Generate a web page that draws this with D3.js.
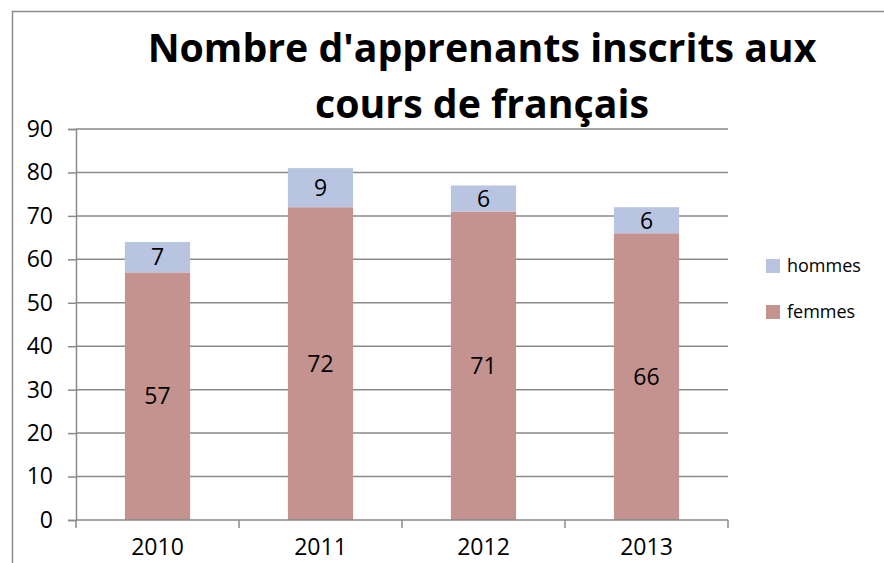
<!DOCTYPE html>
<html lang="fr">
<head>
<meta charset="utf-8">
<title>Nombre d'apprenants</title>
<style>
  body { margin: 0; background: #fff; }
  svg text { font-family: "Open Sans", "Liberation Sans", sans-serif; fill: #000; }
</style>
</head>
<body>
<svg width="884" height="563"></svg>
<script src="https://d3js.org/d3.v7.min.js"></script>
<script>
const years = ["2010", "2011", "2012", "2013"];
const femmes = [57, 72, 71, 66];
const hommes = [7, 9, 6, 6];
const seriesNames = ["femmes", "hommes"];
const yTicks = [0, 10, 20, 30, 40, 50, 60, 70, 80, 90];
const titleLines = ["Nombre d'apprenants inscrits aux", "cours de français"];

const colors = { femmes: "#c49390", hommes: "#b9c5e0" };

const svg = d3.select("svg");

// chart frame (cropped at bottom and right)
svg.append("path")
  .attr("d", "M12.5,563 V11.5 H884")
  .attr("fill", "none")
  .attr("stroke", "#8a8a8a")
  .attr("stroke-width", 1.5);

const plot = { left: 76, right: 728, top: 129, bottom: 520 };

const x = d3.scaleBand()
  .domain(years)
  .range([plot.left, plot.right])
  .paddingInner(0.6)
  .paddingOuter(0.3);

const y = d3.scaleLinear()
  .domain([0, 90])
  .range([plot.bottom, plot.top]);

// gridlines
svg.append("g")
  .selectAll("line")
  .data(yTicks.slice(1))
  .join("line")
    .attr("x1", plot.left)
    .attr("x2", plot.right)
    .attr("y1", d => y(d))
    .attr("y2", d => y(d))
    .attr("stroke", "#8a8a8a")
    .attr("stroke-width", 1.5);

// stacked bars
const rows = years.map((yr, i) => ({ year: yr, femmes: femmes[i], hommes: hommes[i] }));
const stack = d3.stack().keys(seriesNames)(rows);

const groups = svg.append("g")
  .selectAll("g")
  .data(stack)
  .join("g")
    .attr("fill", d => colors[d.key]);

groups.selectAll("rect")
  .data(d => d)
  .join("rect")
    .attr("x", d => x(d.data.year))
    .attr("width", x.bandwidth())
    .attr("y", d => y(d[1]))
    .attr("height", d => y(d[0]) - y(d[1]));

groups.selectAll("text")
  .data(d => d.map(v => ({ v, key: d.key })))
  .join("text")
    .attr("x", d => x(d.v.data.year) + x.bandwidth() / 2)
    .attr("y", d => (y(d.v[0]) + y(d.v[1])) / 2)
    .attr("dy", "0.36em")
    .attr("text-anchor", "middle")
    .attr("font-size", 23)
    .text(d => d.v.data[d.key]);

// y axis
const yAxis = svg.append("g")
  .attr("transform", `translate(${plot.left},0)`)
  .call(d3.axisLeft(y).tickValues(yTicks).tickSize(8).tickPadding(15));
yAxis.select(".domain").attr("stroke", "#8a8a8a").attr("stroke-width", 1.5);
yAxis.selectAll(".tick line").attr("stroke", "#8a8a8a").attr("stroke-width", 1.5);
yAxis.selectAll(".tick text")
  .attr("font-size", 23)
  .attr("font-family", "Open Sans, sans-serif")
  .attr("fill", "#000");

// x axis with ticks at category boundaries
const xAxis = svg.append("g")
  .attr("transform", `translate(0,${plot.bottom})`);
xAxis.append("line")
  .attr("x1", plot.left).attr("x2", plot.right)
  .attr("stroke", "#8a8a8a").attr("stroke-width", 1.5);
const step = (plot.right - plot.left) / years.length;
xAxis.selectAll(".sep")
  .data(d3.range(years.length + 1))
  .join("line")
    .attr("x1", d => plot.left + d * step)
    .attr("x2", d => plot.left + d * step)
    .attr("y1", 0).attr("y2", 8)
    .attr("stroke", "#8a8a8a").attr("stroke-width", 1.5);
xAxis.selectAll("text")
  .data(years)
  .join("text")
    .attr("x", d => x(d) + x.bandwidth() / 2)
    .attr("y", 35)
    .attr("text-anchor", "middle")
    .attr("font-size", 23)
    .text(d => d);

// title
const title = svg.append("g");
titleLines.forEach((t, i) => {
  title.append("text")
    .attr("x", 482)
    .attr("y", 62 + i * 56)
    .attr("text-anchor", "middle")
    .attr("font-size", 38)
    .attr("font-weight", "bold")
    .text(t);
});
// fit first line to the measured width of the original
const first = title.select("text").node();
const fs = 38 * 669 / first.getComputedTextLength();
title.selectAll("text").attr("font-size", fs);

// legend
const legend = svg.append("g")
  .selectAll("g")
  .data(["hommes", "femmes"])
  .join("g")
    .attr("transform", (d, i) => `translate(766,${259 + i * 46})`);
legend.append("rect")
  .attr("width", 14).attr("height", 14)
  .attr("fill", d => colors[d]);
legend.append("text")
  .attr("x", 21).attr("y", 7)
  .attr("dy", "0.36em")
  .attr("font-size", 18)
  .text(d => d);
</script>
</body>
</html>
